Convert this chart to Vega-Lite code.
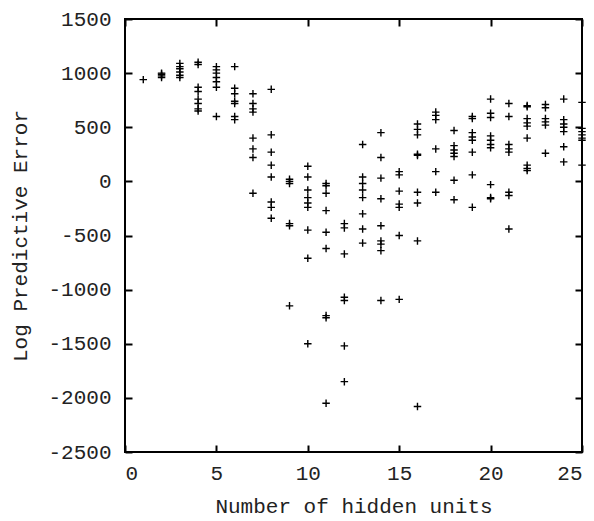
{
  "$schema": "https://vega.github.io/schema/vega-lite/v6.json",
  "autosize": {"type": "none"},
  "width": 457,
  "height": 433,
  "padding": {"left": 125, "top": 19, "right": 12, "bottom": 69},
  "background": "white",
  "config": {
    "view": {"stroke": "black", "strokeWidth": 2},
    "font": "Liberation Mono",
    "axis": {
      "grid": false,
      "domain": false,
      "ticks": true,
      "tickColor": "black",
      "tickWidth": 2,
      "tickSize": 7,
      "offset": -7,
      "labelExpr": "'' + datum.value",
      "labelFont": "Liberation Mono",
      "labelFontSize": 21,
      "labelColor": "#222",
      "labelFontWeight": "normal",
      "titleFont": "Liberation Mono",
      "titleFontSize": 21,
      "titleFontWeight": "normal",
      "titleColor": "#222"
    }
  },
  "data": {"values": [
    {"h":1,"e":940},
    {"h":2,"e":960},{"h":2,"e":975},{"h":2,"e":990},{"h":2,"e":1000},
    {"h":3,"e":1090},{"h":3,"e":1060},{"h":3,"e":1040},{"h":3,"e":1010},{"h":3,"e":980},{"h":3,"e":960},
    {"h":4,"e":1100},{"h":4,"e":1080},{"h":4,"e":870},{"h":4,"e":830},{"h":4,"e":760},{"h":4,"e":720},{"h":4,"e":670},{"h":4,"e":650},
    {"h":5,"e":1060},{"h":5,"e":1030},{"h":5,"e":1000},{"h":5,"e":960},{"h":5,"e":920},{"h":5,"e":870},{"h":5,"e":600},
    {"h":6,"e":1060},{"h":6,"e":860},{"h":6,"e":810},{"h":6,"e":740},{"h":6,"e":720},{"h":6,"e":600},{"h":6,"e":570},
    {"h":7,"e":810},{"h":7,"e":720},{"h":7,"e":670},{"h":7,"e":640},{"h":7,"e":400},{"h":7,"e":300},{"h":7,"e":220},{"h":7,"e":-110},
    {"h":8,"e":850},{"h":8,"e":430},{"h":8,"e":270},{"h":8,"e":150},{"h":8,"e":40},{"h":8,"e":-190},{"h":8,"e":-240},{"h":8,"e":-340},
    {"h":9,"e":20},{"h":9,"e":0},{"h":9,"e":-20},{"h":9,"e":-390},{"h":9,"e":-410},{"h":9,"e":-1150},
    {"h":10,"e":140},{"h":10,"e":40},{"h":10,"e":-80},{"h":10,"e":-150},{"h":10,"e":-200},{"h":10,"e":-240},{"h":10,"e":-450},{"h":10,"e":-710},{"h":10,"e":-1500},
    {"h":11,"e":-20},{"h":11,"e":-40},{"h":11,"e":-110},{"h":11,"e":-270},{"h":11,"e":-470},{"h":11,"e":-620},{"h":11,"e":-1240},{"h":11,"e":-1260},{"h":11,"e":-2050},
    {"h":12,"e":-390},{"h":12,"e":-430},{"h":12,"e":-670},{"h":12,"e":-1070},{"h":12,"e":-1100},{"h":12,"e":-1520},{"h":12,"e":-1850},
    {"h":13,"e":340},{"h":13,"e":40},{"h":13,"e":-20},{"h":13,"e":-80},{"h":13,"e":-150},{"h":13,"e":-300},{"h":13,"e":-440},{"h":13,"e":-570},
    {"h":14,"e":450},{"h":14,"e":220},{"h":14,"e":30},{"h":14,"e":-160},{"h":14,"e":-410},{"h":14,"e":-550},{"h":14,"e":-580},{"h":14,"e":-640},{"h":14,"e":-1100},
    {"h":15,"e":90},{"h":15,"e":60},{"h":15,"e":-90},{"h":15,"e":-210},{"h":15,"e":-240},{"h":15,"e":-500},{"h":15,"e":-1090},
    {"h":16,"e":530},{"h":16,"e":480},{"h":16,"e":430},{"h":16,"e":250},{"h":16,"e":240},{"h":16,"e":-100},{"h":16,"e":-200},{"h":16,"e":-550},{"h":16,"e":-2080},
    {"h":17,"e":640},{"h":17,"e":610},{"h":17,"e":570},{"h":17,"e":300},{"h":17,"e":90},{"h":17,"e":-100},
    {"h":18,"e":470},{"h":18,"e":330},{"h":18,"e":290},{"h":18,"e":260},{"h":18,"e":230},{"h":18,"e":10},{"h":18,"e":-170},
    {"h":19,"e":600},{"h":19,"e":580},{"h":19,"e":450},{"h":19,"e":410},{"h":19,"e":380},{"h":19,"e":270},{"h":19,"e":60},{"h":19,"e":-240},
    {"h":20,"e":760},{"h":20,"e":630},{"h":20,"e":590},{"h":20,"e":420},{"h":20,"e":380},{"h":20,"e":340},{"h":20,"e":310},{"h":20,"e":-30},{"h":20,"e":-150},{"h":20,"e":-160},
    {"h":21,"e":720},{"h":21,"e":600},{"h":21,"e":340},{"h":21,"e":300},{"h":21,"e":270},{"h":21,"e":-100},{"h":21,"e":-130},{"h":21,"e":-440},
    {"h":22,"e":700},{"h":22,"e":690},{"h":22,"e":580},{"h":22,"e":540},{"h":22,"e":510},{"h":22,"e":400},{"h":22,"e":150},{"h":22,"e":120},{"h":22,"e":100},
    {"h":23,"e":710},{"h":23,"e":680},{"h":23,"e":580},{"h":23,"e":550},{"h":23,"e":520},{"h":23,"e":260},
    {"h":24,"e":760},{"h":24,"e":570},{"h":24,"e":530},{"h":24,"e":500},{"h":24,"e":460},{"h":24,"e":320},{"h":24,"e":180},
    {"h":25,"e":730},{"h":25,"e":490},{"h":25,"e":460},{"h":25,"e":430},{"h":25,"e":400},{"h":25,"e":380},{"h":25,"e":150}
  ]},
  "layer": [
    {
      "mark": {"type": "point", "shape": "M-1,0H1M0,-1V1", "filled": false, "stroke": "black", "strokeWidth": 1.4, "size": 56, "opacity": 1, "clip": false},
      "encoding": {
        "x": {"field": "h", "type": "quantitative", "scale": {"domain": [0, 25], "nice": false, "zero": false},
              "axis": {"orient": "bottom", "values": [0,5,10,15,20,25], "title": "Number of hidden units", "labelPadding": 10, "titlePadding": 12}},
        "y": {"field": "e", "type": "quantitative", "scale": {"domain": [-2500, 1500], "nice": false, "zero": false},
              "axis": {"orient": "left", "values": [-2500,-2000,-1500,-1000,-500,0,500,1000,1500], "title": "Log Predictive Error", "labelPadding": 14, "titlePadding": 17}}
      }
    },
    {
      "mark": {"type": "point", "opacity": 0},
      "encoding": {
        "x": {"field": "h", "type": "quantitative", "scale": {"domain": [0, 25], "nice": false, "zero": false},
              "axis": {"orient": "top", "values": [0,5,10,15,20,25], "labels": false, "title": null}},
        "y": {"field": "e", "type": "quantitative", "scale": {"domain": [-2500, 1500], "nice": false, "zero": false},
              "axis": {"orient": "right", "values": [-2500,-2000,-1500,-1000,-500,0,500,1000,1500], "labels": false, "title": null}}
      }
    }
  ],
  "resolve": {"axis": {"x": "independent", "y": "independent"}}
}
